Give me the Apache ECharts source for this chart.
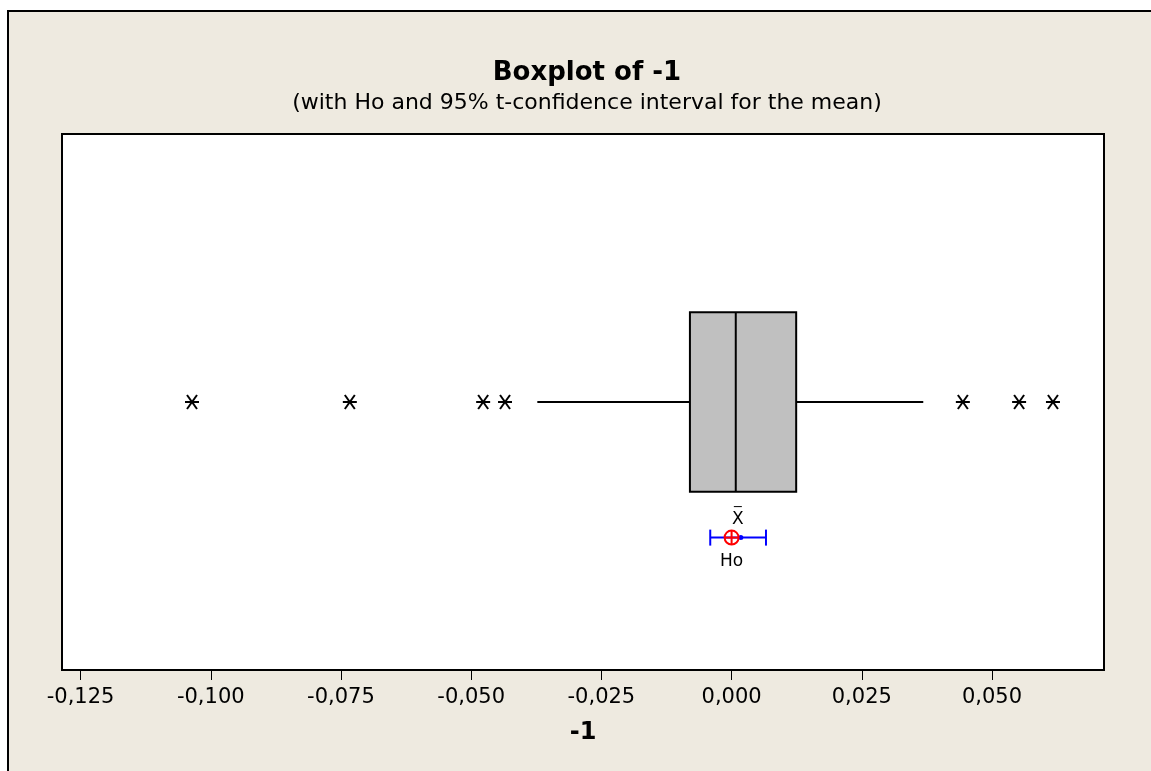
<!DOCTYPE html>
<html>
<head>
<meta charset="utf-8">
<script src="https://cdn.jsdelivr.net/npm/echarts@6/dist/echarts.min.js"></script>
<style>
  html, body { margin: 0; padding: 0; background: #fff; }
  #chart { width: 1151px; height: 771px; }
</style>
</head>
<body>
<div id="chart"></div>
<script>
// boxplot summary: low whisker, Q1, median, Q3, high whisker
const boxStats = [-0.0373, -0.0080, 0.0008, 0.0124, 0.0368];
// points beyond the whiskers
const outliers = [-0.1036, -0.0733, -0.0477, -0.0435, 0.0444, 0.0552, 0.0617];
// 95% t-interval for the mean: low, mean, high
const ciValues = [-0.0041, 0.0012, 0.0066];
const hoValue = 0;
const tickValues = [-0.125, -0.100, -0.075, -0.050, -0.025, 0.000, 0.025, 0.050];

const chart = echarts.init(document.getElementById('chart'));

const boxY = 1;        // row of the box
const boxHalf = 0.335; // half height of the box in y units
const ciY = 0.494;     // row of the interval

function renderBox(params, api) {
  const lo = api.coord([api.value(0), boxY]);
  const q1 = api.coord([api.value(1), boxY + boxHalf]);
  const med = api.coord([api.value(2), boxY]);
  const q3 = api.coord([api.value(3), boxY - boxHalf]);
  const hi = api.coord([api.value(4), boxY]);
  const line = { stroke: '#000', lineWidth: 2 };
  return {
    type: 'group',
    children: [
      { type: 'line', shape: { x1: lo[0], y1: lo[1], x2: q1[0], y2: lo[1] }, style: line },
      { type: 'line', shape: { x1: q3[0], y1: hi[1], x2: hi[0], y2: hi[1] }, style: line },
      { type: 'rect', shape: { x: q1[0], y: q1[1], width: q3[0] - q1[0], height: q3[1] - q1[1] },
        style: { fill: '#c0c0c0', stroke: '#000', lineWidth: 2 } },
      { type: 'line', shape: { x1: med[0], y1: q1[1], x2: med[0], y2: q3[1] }, style: line }
    ]
  };
}

function renderStar(params, api) {
  const p = api.coord([api.value(0), boxY]);
  const s = { stroke: '#000', lineWidth: 2 };
  return {
    type: 'group',
    children: [
      { type: 'line', shape: { x1: p[0] - 7, y1: p[1], x2: p[0] + 7, y2: p[1] }, style: s },
      { type: 'line', shape: { x1: p[0] - 5, y1: p[1] - 7, x2: p[0] + 5, y2: p[1] + 7 }, style: s },
      { type: 'line', shape: { x1: p[0] + 5, y1: p[1] - 7, x2: p[0] - 5, y2: p[1] + 7 }, style: s }
    ]
  };
}

function renderCi(params, api) {
  const a = api.coord([api.value(0), ciY]);
  const m = api.coord([api.value(1), ciY]);
  const b = api.coord([api.value(2), ciY]);
  const h = api.coord([api.value(3), ciY]);
  const blue = { stroke: '#0000ff', lineWidth: 2 };
  const red = { stroke: '#ff0000', lineWidth: 2 };
  return {
    type: 'group',
    children: [
      { type: 'line', shape: { x1: a[0], y1: a[1], x2: b[0], y2: b[1] }, style: blue },
      { type: 'line', shape: { x1: a[0], y1: a[1] - 8, x2: a[0], y2: a[1] + 8 }, style: blue },
      { type: 'line', shape: { x1: b[0], y1: b[1] - 8, x2: b[0], y2: b[1] + 8 }, style: blue },
      { type: 'circle', shape: { cx: m[0] + 3, cy: m[1], r: 2.5 }, style: { fill: '#0000ff' } },
      { type: 'circle', shape: { cx: h[0], cy: h[1], r: 7 }, style: { fill: 'none', stroke: '#ff0000', lineWidth: 2 } },
      { type: 'line', shape: { x1: h[0] - 7, y1: h[1], x2: h[0] + 7, y2: h[1] }, style: red },
      { type: 'line', shape: { x1: h[0], y1: h[1] - 7, x2: h[0], y2: h[1] + 7 }, style: red },
      { type: 'text', style: { x: m[0], y: m[1] - 18, text: 'X', fill: '#000', font: '17px "DejaVu Sans"', align: 'center', verticalAlign: 'middle' } },
      { type: 'line', shape: { x1: m[0] - 4, y1: m[1] - 31, x2: m[0] + 4, y2: m[1] - 31 }, style: { stroke: '#000', lineWidth: 1 } },
      { type: 'text', style: { x: h[0], y: h[1] + 24, text: 'Ho', fill: '#000', font: '17px "DejaVu Sans"', align: 'center', verticalAlign: 'middle' } }
    ]
  };
}

chart.setOption({
  backgroundColor: '#fff',
  animation: false,
  graphic: [
    { type: 'rect', z: -10, shape: { x: 8, y: 11, width: 1200, height: 800 },
      style: { fill: '#eeeae0', stroke: '#000', lineWidth: 2 } }
  ],
  title: {
    text: 'Boxplot of -1',
    subtext: '(with Ho and 95% t-confidence interval for the mean)',
    left: 582,
    textAlign: 'center',
    top: 55,
    itemGap: 6,
    textStyle: { fontFamily: 'DejaVu Sans', fontWeight: 'bold', fontSize: 26, color: '#000' },
    subtextStyle: { fontFamily: 'DejaVu Sans', fontSize: 22, color: '#000' }
  },
  grid: {
    left: 62, right: 47, top: 134, bottom: 101,
    show: true, backgroundColor: '#fff', borderColor: '#000', borderWidth: 2
  },
  xAxis: {
    type: 'value',
    min: -0.12856,
    max: 0.0715,
    name: '-1',
    nameLocation: 'middle',
    nameGap: 51,
    nameTextStyle: { fontFamily: 'DejaVu Sans', fontWeight: 'bold', fontSize: 24, color: '#000' },
    axisLine: { show: true, lineStyle: { color: '#000', width: 2 } },
    axisTick: { show: true, length: 10, customValues: tickValues, lineStyle: { color: '#000', width: 1 } },
    axisLabel: {
      customValues: tickValues,
      margin: 17,
      fontFamily: 'DejaVu Sans',
      fontSize: 21,
      color: '#000',
      formatter: v => v.toFixed(3).replace('.', ',').replace('-0,000', '0,000')
    },
    splitLine: { show: false }
  },
  yAxis: {
    type: 'value', min: 0, max: 2, show: false
  },
  series: [
    { type: 'custom', renderItem: renderBox, data: [boxStats], silent: true },
    { type: 'custom', renderItem: renderStar, data: outliers.map(v => [v]), silent: true },
    { type: 'custom', renderItem: renderCi, data: [[ciValues[0], ciValues[1], ciValues[2], hoValue]], silent: true }
  ]
});
</script>
</body>
</html>
